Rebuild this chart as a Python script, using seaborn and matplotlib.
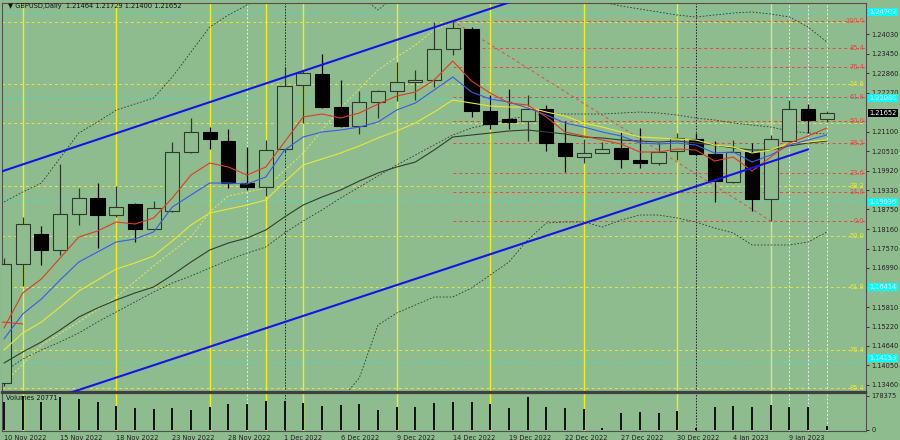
import numpy as np
import pandas as pd
import matplotlib
matplotlib.use("Agg")
import matplotlib.pyplot as plt
import matplotlib.transforms as mtransforms
import seaborn as sns

# ---------------- data ----------------
dates = ["2022-11-10", "2022-11-11", "2022-11-14", "2022-11-15", "2022-11-16", "2022-11-17",
         "2022-11-18", "2022-11-21", "2022-11-22", "2022-11-23", "2022-11-24", "2022-11-25",
         "2022-11-28", "2022-11-29", "2022-11-30", "2022-12-01", "2022-12-02", "2022-12-05",
         "2022-12-06", "2022-12-07", "2022-12-08", "2022-12-09", "2022-12-12", "2022-12-13",
         "2022-12-14", "2022-12-15", "2022-12-16", "2022-12-19", "2022-12-20", "2022-12-21",
         "2022-12-22", "2022-12-23", "2022-12-26", "2022-12-27", "2022-12-28", "2022-12-29",
         "2022-12-30", "2023-01-02", "2023-01-03", "2023-01-04", "2023-01-05", "2023-01-06",
         "2023-01-09", "2023-01-10", "2023-01-11"]
open_ = [1.13520, 1.17107, 1.18011, 1.17529, 1.18614, 1.19096, 1.18584, 1.18915, 1.18162, 1.18704,
         1.20483, 1.21085, 1.20814, 1.19548, 1.19428, 1.20573, 1.22502, 1.22833, 1.21839, 1.21266,
         1.21990, 1.22321, 1.22592, 1.22653, 1.23587, 1.24190, 1.21718, 1.21477, 1.21417, 1.21779,
         1.20754, 1.20332, 1.20452, 1.20603, 1.20241, 1.20151, 1.20513, 1.20874, 1.20422, 1.19578,
         1.20483, 1.19066, 1.20814, 1.21779, 1.21464]
high = [1.17288, 1.18523, 1.18252, 1.20121, 1.19398, 1.19548, 1.19458, 1.18945, 1.19006, 1.20784,
        1.21507, 1.21236, 1.21176, 1.20633, 1.20844, 1.23044, 1.22954, 1.23436, 1.22653, 1.22321,
        1.22360, 1.23195, 1.22954, 1.24401, 1.24431, 1.24250, 1.22200, 1.22381, 1.22200, 1.21899,
        1.21417, 1.20874, 1.20784, 1.21085, 1.21206, 1.20754, 1.21055, 1.21055, 1.20814, 1.20844,
        1.20754, 1.20995, 1.22050, 1.21930, 1.21729]
low = [1.13430, 1.16444, 1.17077, 1.17378, 1.18282, 1.17589, 1.18523, 1.17770, 1.18130, 1.18670,
       1.20450, 1.20573, 1.19398, 1.19337, 1.19156, 1.20470, 1.21357, 1.21800, 1.21240, 1.21025,
       1.21507, 1.22020, 1.22050, 1.22442, 1.23406, 1.21537, 1.21176, 1.21176, 1.20814, 1.20513,
       1.19880, 1.20151, 1.20440, 1.20000, 1.20000, 1.20091, 1.20241, 1.20392, 1.18976, 1.19550,
       1.18704, 1.18403, 1.20780, 1.21055, 1.21400]
close = [1.17107, 1.18312, 1.17529, 1.18614, 1.19096, 1.18584, 1.18825, 1.18162, 1.18795, 1.20483,
         1.21085, 1.20874, 1.19548, 1.19428, 1.20543, 1.22472, 1.22864, 1.21839, 1.21266, 1.21990,
         1.22321, 1.22592, 1.22653, 1.23587, 1.24220, 1.21718, 1.21326, 1.21386, 1.21779, 1.20754,
         1.20362, 1.20452, 1.20573, 1.20272, 1.20151, 1.20483, 1.20904, 1.20422, 1.19608, 1.20483,
         1.19066, 1.20874, 1.21779, 1.21447, 1.21652]
volume = [146900, 178375, 146900, 175000, 162600, 146900, 125900, 115400, 110200, 115400,
          104900, 120700, 136400, 136400, 152100, 152100, 141600, 125900, 131200, 136400,
          104900, 120700, 120700, 141600, 146900, 146900, 136400, 115400, 173100, 120700,
          115400, 110200, 8000, 89200, 94400, 89200, 99700, 12000, 120700, 125900,
          120700, 131200, 120700, 120700, 20771]

ma_red = [1.15178, 1.16233, 1.16655, 1.17288, 1.17921, 1.18102, 1.18373, 1.18313, 1.18493, 1.19096,
          1.19789, 1.20151, 1.20031, 1.19789, 1.20031, 1.20784, 1.21538, 1.21628, 1.21507, 1.21658,
          1.21929, 1.22171, 1.22291, 1.22653, 1.23225, 1.22623, 1.22261, 1.21960, 1.21899, 1.21538,
          1.21086, 1.20965, 1.20844, 1.20724, 1.20483, 1.20483, 1.20573, 1.20543, 1.20211, 1.20332,
          1.19910, 1.20332, 1.20754, 1.20965, 1.21206]
ma_blue = [1.14847, 1.15600, 1.16052, 1.16625, 1.17167, 1.17469, 1.17770, 1.17861, 1.18072, 1.18825,
           1.19187, 1.19548, 1.19548, 1.19518, 1.19729, 1.20543, 1.20935, 1.21086, 1.21146, 1.21236,
           1.21387, 1.21749, 1.21960, 1.22351, 1.22743, 1.22291, 1.22080, 1.21990, 1.21809, 1.21598,
           1.21357, 1.21236, 1.21086, 1.20965, 1.20754, 1.20724, 1.20754, 1.20694, 1.20453, 1.20483,
           1.20181, 1.20392, 1.20694, 1.20844, 1.20995]
ma_yellow = [1.14515, 1.15027, 1.15359, 1.15811, 1.16293, 1.16625, 1.16956, 1.17137, 1.17348, 1.17800,
             1.18282, 1.18644, 1.18765, 1.18885, 1.19036, 1.19579, 1.20091, 1.20272, 1.20453, 1.20664,
             1.20905, 1.21116, 1.21357, 1.21688, 1.22050, 1.21960, 1.21869, 1.21839, 1.21839, 1.21688,
             1.21568, 1.21357, 1.21236, 1.21086, 1.20935, 1.20905, 1.20875, 1.20844, 1.20694, 1.20633,
             1.20453, 1.20543, 1.20754, 1.20784, 1.20844]
ma_dark = [1.14123, 1.14455, 1.14756, 1.15118, 1.15510, 1.15781, 1.16022, 1.16233, 1.16414, 1.16775,
           1.17167, 1.17529, 1.17740, 1.17891, 1.18132, 1.18524, 1.18885, 1.19126, 1.19337, 1.19609,
           1.19850, 1.20031, 1.20181, 1.20543, 1.20935, 1.20995, 1.21055, 1.21116, 1.21146, 1.21086,
           1.21025, 1.20935, 1.20905, 1.20844, 1.20814, 1.20784, 1.20814, 1.20754, 1.20694, 1.20603,
           1.20543, 1.20543, 1.20664, 1.20754, 1.20814]
bb_mid = [1.13852, 1.14244, 1.14515, 1.14756, 1.15027, 1.15359, 1.15660, 1.15962, 1.16263, 1.16534,
          1.16745, 1.16986, 1.17228, 1.17439, 1.17619, 1.18041, 1.18403, 1.18735, 1.19096, 1.19428,
          1.19759, 1.20091, 1.20392, 1.20694, 1.20995, 1.21206, 1.21327, 1.21477, 1.21568, 1.21628,
          1.21628, 1.21628, 1.21628, 1.21658, 1.21688, 1.21658, 1.21598, 1.21507, 1.21447, 1.21357,
          1.21296, 1.21236, 1.21116, 1.21055, 1.21025]
nan = float("nan")
bb_upper = [1.18976, 1.19277, 1.19548, 1.20302, 1.21055, 1.21387, 1.21749, 1.21929, 1.22110, 1.22743,
            1.23497, 1.24250, 1.24612, 1.24913, 1.25215, nan, nan, nan, 1.25300, 1.25215,
            1.24763, 1.25215, nan, nan, nan, nan, nan, nan, nan, nan,
            nan, 1.25154, 1.25004, 1.24883, 1.24793, 1.24702, 1.24612, 1.24552, 1.24612, 1.24672,
            1.24702, 1.24642, 1.24552, 1.24250, 1.23798]
bb_lower = [nan] * 18 + [1.13008, 1.13671, 1.15268, 1.15630, 1.15871, 1.16112, 1.16112, 1.16384,
                         1.16775, 1.17167, 1.17830, 1.18343, 1.18373, 1.18373, 1.18222, 1.18433,
                         1.18584, 1.18584, 1.18494, 1.18373, 1.18192, 1.18041, 1.17680, 1.17680,
                         1.17680, 1.17770, 1.18072]
ydot_idx = [0, 2, 4, 6, 8, 10, 11, 12, 14, 16, 18, 20, 21, 22, 23, 24]
ydot_val = [1.13520, 1.14666, 1.15359, 1.16112, 1.17047, 1.17921, 1.18674, 1.19157, 1.19398, 1.20453,
            1.21809, 1.22954, 1.23346, 1.23708, 1.24160, 1.24401]

fib_red_labels = ["100.0", "85.4", "76.4", "61.8", "50.0", "38.2", "23.6", "14.6", "0.0"]
fib_red_prices = [1.24431, 1.23617, 1.23045, 1.22140, 1.21417, 1.20754, 1.19850, 1.19277, 1.18403]
fib_red_start = 24
fib_yel_labels = ["0.0", "14.6", "23.6", "38.2", "50.0", "61.8", "76.4", "85.4"]
fib_yel_prices = [1.24401, 1.22532, 1.21357, 1.19458, 1.17951, 1.16414, 1.14515, 1.13370]
fib_yel_shown = ["14.6", "38.2", "50.0", "61.8", "76.4", "85.4"]
cyan_levels = [1.24702, 1.22080, 1.19036, 1.16414, 1.14153]
cyan_box_shift = [0, 1, -2, 0, 4]   # small vertical nudges (px) of the right-axis boxes

chan_up_x, chan_up_y = [-0.2, 27.0], [1.19883, 1.24989]
chan_lo_x, chan_lo_y = [3.5, 43.0], [1.13219, 1.20561]
fib_diag_x, fib_diag_y = [24, 41], [1.24431, 1.18403]
red_mark_x, red_mark_y = [-0.1, 1.0], [1.15360, 1.15300]

price_ticks = [1.24030, 1.23450, 1.22860, 1.22270, 1.21100, 1.20510, 1.19920, 1.19330, 1.18750,
               1.18160, 1.17570, 1.16990, 1.15810, 1.15220, 1.14640, 1.14050, 1.13460]
vol_ticks = [178375, 0]
vl_yellow = [1, 6, 11, 14, 16, 21, 26, 31, 36]
vl_pale = [41]
vl_black = [15, 37]
vl_white = [13, 42, 43, 44]
header = "\u25BC GBPUSD,Daily  1.21464 1.21729 1.21400 1.21652"
vol_header = "Volumes 20771"

# ---------------- styling ----------------
BG = "#8fbc8f"
FS = 4.8
sns.set_style("white")
plt.rcParams["font.family"] = ["DejaVu Sans"]

idx = np.arange(len(dates))
dts = pd.to_datetime(pd.Series(dates))
df = pd.DataFrame({"i": idx, "open": open_, "high": high, "low": low, "close": close,
                   "volume": volume, "red": ma_red, "blue": ma_blue, "yellow": ma_yellow,
                   "dark": ma_dark, "mid": bb_mid})

fig = plt.figure(figsize=(9, 4.4), dpi=100, facecolor=BG)
L, R = 2 / 900, 866 / 900
ax = fig.add_axes([L, 1 - 392 / 440, R - L, 389 / 440])
axv = fig.add_axes([L, 1 - 431 / 440, R - L, 38 / 440])
for a in (ax, axv):
    a.set_facecolor(BG)
    for s in a.spines.values():
        s.set_color("#505050")
        s.set_linewidth(0.8)
ax.spines["bottom"].set_linewidth(1.6)
axv.spines["top"].set_linewidth(1.6)
ax.spines["bottom"].set_color("#404040")
axv.spines["top"].set_color("#404040")

xl = ((2 - 4) / 18.7, (866 - 4) / 18.7)
ax.set_xlim(*xl)
axv.set_xlim(*xl)
ax.set_ylim(1.13249, 1.24974)
axv.set_ylim(-5246, 194100)

dash = (0, (3, 3))
# horizontal levels
for p in cyan_levels:
    ax.axhline(p, color="#40e0d0", lw=0.7, ls=dash, zorder=1)
for p in fib_yel_prices:
    ax.axhline(p, color="#e6e640", lw=0.7, ls=dash, zorder=1)
for p in fib_red_prices:
    ax.plot([fib_red_start, xl[1]], [p, p], color="#e04848", lw=0.7, ls=dash, zorder=1)

# vertical separators
for a in (ax, axv):
    for v in vl_yellow:
        a.axvline(v, color="#f0f020", lw=1.0, zorder=1)
    for v in vl_pale:
        a.axvline(v, color="#dcdc9a", lw=1.0, zorder=1)
    for v in vl_black:
        a.axvline(v, color="#202020", lw=0.7, ls=(0, (1.5, 1.5)), zorder=1)
    for v in vl_white:
        a.axvline(v, color="#e8f0e8", lw=0.7, ls=(0, (2, 2)), zorder=1)

# bands & dotted lines
ax.plot(idx, bb_upper, color="#303830", lw=0.6, ls=(0, (2, 2)), zorder=2)
ax.plot(idx, bb_lower, color="#303830", lw=0.6, ls=(0, (2, 2)), zorder=2)
sns.lineplot(data=df, x="i", y="mid", ax=ax, color="#303830", lw=0.6, ls=(0, (2, 2)), zorder=2)
ax.plot(ydot_idx, ydot_val, color="#e8e860", lw=0.7, ls=(0, (2, 2)), zorder=2)
ax.plot(fib_diag_x, fib_diag_y, color="#e04848", lw=0.7, ls=dash, zorder=2)

# candles
bull = np.array(close) >= np.array(open_)
for i in idx:
    o, h, l, c = open_[i], high[i], low[i], close[i]
    col = "#2c3a2c" if bull[i] else "#000000"
    ax.vlines(i, l, h, color=col, lw=0.9, zorder=3)
    bot, hgt = min(o, c), max(abs(c - o), 0.00012)
    ax.bar(i, hgt, bottom=bot, width=0.75, facecolor=BG if bull[i] else "#000000",
           edgecolor=col, linewidth=0.8, zorder=3.5)

# moving averages
sns.lineplot(data=df, x="i", y="dark", ax=ax, color="#2f3f2f", lw=0.8, zorder=4)
sns.lineplot(data=df, x="i", y="yellow", ax=ax, color="#e8e838", lw=0.8, zorder=4)
sns.lineplot(data=df, x="i", y="blue", ax=ax, color="#3a5ae8", lw=0.8, zorder=4)
sns.lineplot(data=df, x="i", y="red", ax=ax, color="#e03a22", lw=0.8, zorder=4)
ax.plot(red_mark_x, red_mark_y, color="#e03a22", lw=0.8, zorder=4)

# channel
ax.plot(chan_up_x, chan_up_y, color="#1414e6", lw=1.5, zorder=5)
ax.plot(chan_lo_x, chan_lo_y, color="#1414e6", lw=1.5, zorder=5)

# axes ticks and labels
ax.set_xlabel("")
ax.set_ylabel("")
ax.set_xticks([])
ax.yaxis.tick_right()
ax.set_yticks(price_ticks)
ax.set_yticklabels([f"{v:.5f}" for v in price_ticks])
ax.tick_params(axis="y", labelsize=FS, length=2.5, width=0.6, pad=1.5, colors="#202020")

tr = mtransforms.blended_transform_factory(ax.transAxes, ax.transData)
for lab, p in zip(fib_red_labels, fib_red_prices):
    ax.text(0.998, p, lab, transform=tr, ha="right", va="center", fontsize=FS,
            color="#e04848", zorder=6)
for lab, p in zip(fib_yel_labels, fib_yel_prices):
    if lab in fib_yel_shown:
        ax.text(0.998, p, lab, transform=tr, ha="right", va="center", fontsize=FS,
                color="#e6e640", zorder=6)
for p, sh in zip(cyan_levels, cyan_box_shift):
    ax.annotate(f"{p:.5f}", xy=(1.004, p), xycoords=tr, xytext=(0, sh * 0.72),
                textcoords="offset points", ha="left", va="center", fontsize=FS,
                color="white", annotation_clip=False, zorder=7,
                bbox=dict(boxstyle="square,pad=0.15", fc="#00ffff", ec="none"))
ax.text(1.004, close[-1], f"{close[-1]:.5f}", transform=tr, ha="left", va="center",
        fontsize=FS, color="white", clip_on=False, zorder=7,
        bbox=dict(boxstyle="square,pad=0.15", fc="black", ec="none"))
fig.text(8 / 900, 1 - 6 / 440, header, fontsize=FS, color="#101010", va="center", ha="left")

# volume
axv.vlines(idx, 0, volume, color="#101010", lw=1.4, zorder=3)
axv.yaxis.tick_right()
axv.set_yticks(vol_ticks)
axv.set_yticklabels([str(v) for v in vol_ticks])
axv.tick_params(axis="y", labelsize=FS, length=2.5, width=0.6, pad=1.5, colors="#202020")
tick_idx = list(range(0, len(dates), 3))
axv.set_xticks(tick_idx)
axv.set_xticklabels([f"{dts[i].day} {dts[i].strftime('%b %Y')}" for i in tick_idx],
                    ha="left", fontsize=FS, color="#202020")
axv.tick_params(axis="x", length=2, width=0.6, pad=0.8, colors="#202020")
axv.set_xlabel("")
axv.set_ylabel("")
axv.text(0.005, 0.86, vol_header, transform=axv.transAxes, fontsize=FS, color="#101010",
         va="center", ha="left")

fig.savefig("out.png", dpi=100, facecolor=BG)
